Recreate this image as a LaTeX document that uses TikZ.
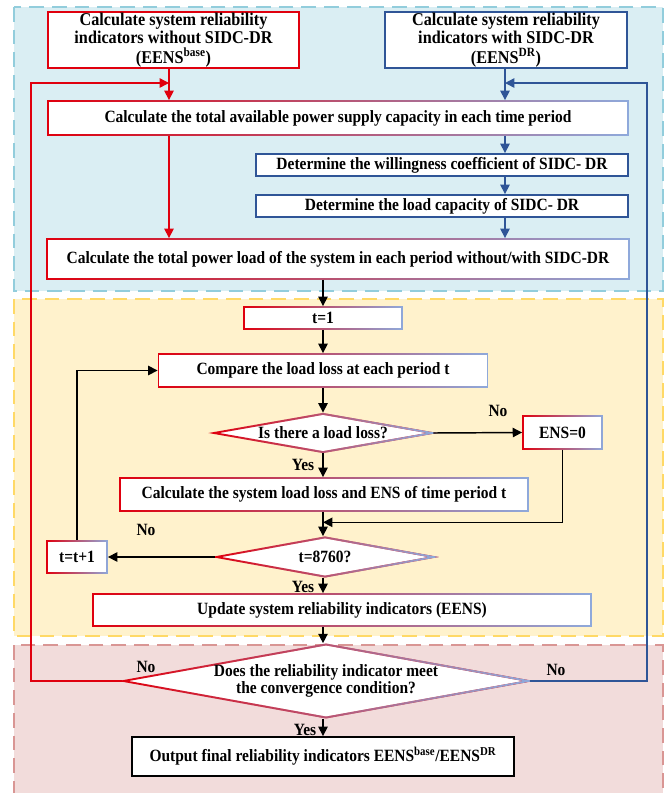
\documentclass[tikz,border=0pt]{standalone}
\usepackage{fontspec}
\setmainfont{Liberation Serif}[FakeStretch=0.9]
\usetikzlibrary{arrows.meta,shapes.geometric,fadings,calc}

\definecolor{cRed}{HTML}{E0000E}
\definecolor{cLB}{HTML}{8FAADC}
\definecolor{cDB}{HTML}{2F5597}
\definecolor{bluefill}{HTML}{DAEEF3}
\definecolor{blueedge}{HTML}{92CDDC}
\definecolor{yelfill}{HTML}{FFF2CC}
\definecolor{yeledge}{HTML}{FFD966}
\definecolor{pinkfill}{HTML}{F2DCDB}
\definecolor{pinkedge}{HTML}{D99694}

% transparent on the left, opaque on the right
\tikzfading[name=lefttoright, left color=transparent!100, right color=transparent!0]

\begin{document}
\begin{tikzpicture}[x=0.75pt,y=-0.75pt,
  font=\fontsize{12.9pt}{13pt}\selectfont\bfseries,
  base/.style={inner sep=0pt, align=center, line width=1.4pt, fill=white},
  sz/.style 2 args={minimum width=#1*0.75pt, minimum height=#2*0.75pt},
  gbox/.style={base, rectangle, draw=cRed,
    postaction={draw=cLB, fill=none, path fading=lefttoright}},
  bbox/.style={base, rectangle, draw=cDB},
  rbox/.style={base, rectangle, draw=cRed},
  kbox/.style={base, rectangle, draw=black},
  headtext/.style={font=\fontsize{13.5pt}{13.4pt}\selectfont\bfseries},
  gdia/.style={base, diamond, aspect=5.5, draw=cRed,
    postaction={draw=cLB, fill=none, path fading=lefttoright}},
  arr/.style={line width=1.1pt, -{Triangle[length=7pt,width=7pt]}},
  lbl/.style={inner sep=0pt},
  region/.style={line width=1.3pt, dash pattern=on 11pt off 6pt}
]
\clip (0,0) rectangle (671,793);
\fill[white] (0,0) rectangle (671,793);

% three stages of the procedure
\filldraw[region, fill=bluefill, draw=blueedge] (14,7) rectangle (663,291);
\filldraw[region, fill=yelfill, draw=yeledge] (14,299) rectangle (663,636);
\filldraw[region, fill=pinkfill, draw=pinkedge] (14,645) rectangle (663,800);

% stage 1: load and capacity
\node[rbox, headtext, sz={251}{56}] (b1) at (173.5,40) {Calculate system reliability\\indicators without SIDC-DR\\[1.5pt](EENS\textsuperscript{base})};
\node[bbox, headtext, sz={242}{56}] (b2) at (506,40) {Calculate system reliability\\indicators with SIDC-DR\\[1.5pt](EENS\textsuperscript{DR})};
\node[gbox, sz={580}{34}] (sup) at (338,118) {Calculate the total available power supply capacity in each time period};
\node[bbox, sz={372}{22}] (will) at (442,165) {Determine the willingness coefficient of SIDC- DR};
\node[bbox, sz={372}{22}] (cap) at (442,206) {Determine the load capacity of SIDC- DR};
\node[gbox, sz={582}{40}] (load) at (338,259) {Calculate the total power load of the system in each period without/with SIDC-DR};

% stage 2: hourly loop
\node[gbox, sz={158}{22}] (t1) at (323,318) {t=1};
\node[gbox, sz={329}{33}] (cmp) at (323,370.5) {Compare the load loss at each period t};
\node[gdia, sz={219}{39}] (d1) at (323,433) {Is there a load loss?};
\node[gbox, sz={79}{33}] (ens) at (562.5,432.5) {ENS=0};
\node[gbox, sz={408}{33}] (calc) at (324,494.5) {Calculate the system load loss and ENS of time period t};
\node[gdia, sz={218}{40}] (d2) at (325,557) {t=8760?};
\node[gbox, sz={60}{32}] (tt) at (77,557) {t=t+1};
\node[gbox, sz={498}{32}] (upd) at (342,610) {Update system reliability indicators (EENS)};

% stage 3: convergence
\node[gdia, sz={390}{72}] (d3) at (326,681) {Does the reliability indicator meet\\the convergence condition?};
\node[kbox, sz={382}{39}] (out) at (323,756.5) {Output final reliability indicators EENS\textsuperscript{base}/EENS\textsuperscript{DR}};

% junctions of the return paths
\coordinate (rj) at (169,83);
\coordinate (bj) at (505,83);
\coordinate (rl) at (31,83);
\coordinate (bl) at (647,83);

% red branch
\draw[arr, cRed] (b1.south -| rj) -- (sup.north -| rj);
\draw[arr, cRed] (sup.south -| rj) -- (load.north -| rj);
\draw[arr, cRed] (d3.west) -| (rl) -- (rj);

% blue branch
\draw[arr, cDB] (b2.south -| bj) -- (sup.north -| bj);
\draw[arr, cDB] (sup.south -| bj) -- (will.north -| bj);
\draw[arr, cDB] (will.south -| bj) -- (cap.north -| bj);
\draw[arr, cDB] (cap.south -| bj) -- (load.north -| bj);
\draw[arr, cDB] (d3.east) -| (bl) -- (bj);

% main flow
\draw[arr] (t1.north |- load.south) -- (t1.north);
\draw[arr] (t1.south) -- (cmp.north);
\draw[arr] (cmp.south) -- (d1.north);
\draw[arr] (d1.south) -- (d1.south |- calc.north);
\draw[arr] (d1.east) -- (ens.west);
\draw[arr] (calc.south -| d1.south) -- (d2.north -| d1.south);
\draw[arr] (ens.south) |- ($(calc.south -| d1.south)!0.43!(d2.north -| d1.south)$);
\draw[arr] (d2.west) -- (tt.east);
\draw[arr] (tt.north) |- (cmp.west);
\draw[arr] (d2.south -| d1.south) -- (upd.north -| d1.south);
\draw[arr] (upd.south -| d1.south) -- (d3.north -| d1.south);
\draw[arr] (d3.south -| out.north) -- (out.north);

% branch labels
\node[lbl] (n1) at (498,411) {No};
\node[lbl] (y1) at (303,465) {Yes};
\node[lbl] (n2) at (146,530) {No};
\node[lbl] (y2) at (303,587) {Yes};
\node[lbl] (n3) at (146,667) {No};
\node[lbl] (n4) at (556,670) {No};
\node[lbl] (y3) at (305,730) {Yes};
\end{tikzpicture}
\end{document}
